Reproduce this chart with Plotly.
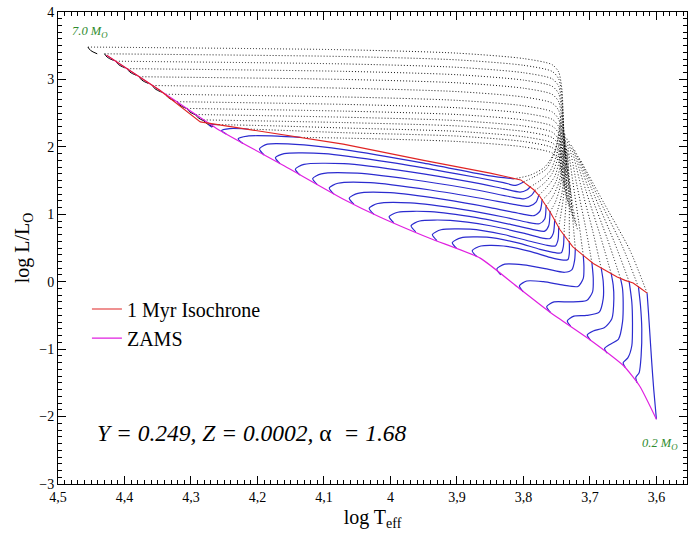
import plotly.graph_objects as go

# ---------------- data ----------------
ZAMS_LOGT = [4.427, 4.347, 4.261, 4.16, 4.070, 4.016, 3.94, 3.865, 3.81, 3.759, 3.70, 3.649, 3.625, 3.600]
ZAMS_LOGL = [3.36, 2.84, 2.27, 1.72, 1.22, 0.96, 0.64, 0.35, -0.07, -0.46, -0.86, -1.25, -1.55, -2.04]

ISO_LOGT = [4.427, 4.347, 4.286, 4.18, 4.071, 3.95, 3.85, 3.804, 3.784, 3.775, 3.759, 3.745,
            3.726, 3.71, 3.695, 3.677, 3.659, 3.647, 3.635, 3.625, 3.614]
ISO_LOGL = [3.36, 2.84, 2.37, 2.21, 2.04, 1.80, 1.61, 1.51, 1.36, 1.26, 1.02, 0.77,
            0.52, 0.39, 0.27, 0.17, 0.07, 0.02, -0.02, -0.09, -0.17]

# High-mass tracks (already on the ZAMS at 1 Myr); first 3 points = ZAMS hook
HM_LOGT = [
    [4.441, 4.451, 4.455, 4.07, 3.90, 3.80, 3.757, 3.747, 3.742, 3.7400, 3.7380],
    [4.416, 4.426, 4.430, 4.07, 3.90, 3.80, 3.757, 3.747, 3.742, 3.7395, 3.7365],
    [4.399, 4.409, 4.413, 4.07, 3.90, 3.80, 3.757, 3.747, 3.742, 3.7390, 3.7350],
    [4.382, 4.392, 4.396, 4.07, 3.90, 3.80, 3.757, 3.747, 3.742, 3.7385, 3.7335],
    [4.364, 4.374, 4.378, 4.07, 3.90, 3.80, 3.757, 3.747, 3.742, 3.7380, 3.7320],
    [4.344, 4.354, 4.358, 4.07, 3.90, 3.80, 3.757, 3.747, 3.742, 3.7375, 3.7305],
    [4.324, 4.334, 4.338, 4.07, 3.90, 3.80, 3.757, 3.747, 3.742, 3.7370, 3.7290],
    [4.307, 4.317, 4.321, 4.07, 3.90, 3.80, 3.757, 3.747, 3.742, 3.7365, 3.7275],
    [4.292, 4.302, 4.306, 4.07, 3.90, 3.80, 3.757, 3.747, 3.742, 3.7360, 3.7260],
    [4.279, 4.289, 4.293, 4.07, 3.90, 3.80, 3.757, 3.747, 3.742, 3.7355, 3.7245],
    [4.267, 4.277, 4.281, 4.07, 3.90, 3.80, 3.757, 3.747, 3.742, 3.7350, 3.7230],
]
HM_LOGL = [
    [3.38, 3.43, 3.48, 3.44, 3.39, 3.31, 3.22, 3.11, 2.84, 2.37, 1.90],
    [3.28, 3.33, 3.38, 3.34, 3.29, 3.21, 3.12, 3.01, 2.74, 2.28, 1.81],
    [3.17, 3.22, 3.27, 3.23, 3.18, 3.10, 3.01, 2.90, 2.63, 2.18, 1.72],
    [3.06, 3.11, 3.16, 3.12, 3.07, 2.99, 2.90, 2.79, 2.52, 2.08, 1.63],
    [2.94, 2.99, 3.04, 3.00, 2.95, 2.87, 2.78, 2.67, 2.40, 1.97, 1.54],
    [2.81, 2.86, 2.91, 2.87, 2.82, 2.74, 2.65, 2.54, 2.27, 1.86, 1.45],
    [2.68, 2.73, 2.78, 2.74, 2.69, 2.61, 2.52, 2.41, 2.14, 1.75, 1.36],
    [2.57, 2.62, 2.67, 2.63, 2.58, 2.50, 2.41, 2.30, 2.03, 1.65, 1.27],
    [2.47, 2.52, 2.57, 2.53, 2.48, 2.40, 2.31, 2.20, 1.93, 1.55, 1.18],
    [2.38, 2.43, 2.48, 2.44, 2.39, 2.31, 2.22, 2.11, 1.84, 1.47, 1.09],
    [2.30, 2.35, 2.40, 2.36, 2.31, 2.23, 2.14, 2.03, 1.76, 1.38, 1.00],
]
HM_HOOK = 2

# Lower-mass tracks: from the ZAMS (left end) to the birth point; LM_SPLIT = index of the 1 Myr point
LM_LOGT = [
    [4.268, 4.273, 4.258, 4.17, 4.07, 3.90, 3.80, 3.757, 3.747, 3.742, 3.734, 3.721],
    [4.247, 4.254, 4.242, 4.215, 4.15, 4.07, 3.90, 3.80, 3.757, 3.747, 3.742, 3.733, 3.7195],
    [4.222, 4.229, 4.215, 4.17, 4.135, 4.07, 3.90, 3.80, 3.757, 3.747, 3.742, 3.732, 3.718],
    [4.190, 4.197, 4.185, 4.13, 4.07, 3.95, 3.85, 3.815, 3.79, 3.768, 3.752, 3.744],
    [4.166, 4.173, 4.160, 4.10, 4.00, 3.90, 3.83, 3.812, 3.800, 3.785, 3.765, 3.752, 3.743],
    [4.136, 4.143, 4.130, 4.07, 3.97, 3.88, 3.83, 3.805, 3.795, 3.790, 3.775, 3.760, 3.749, 3.742],
    [4.110, 4.117, 4.104, 4.05, 3.95, 3.87, 3.82, 3.798, 3.788, 3.783, 3.770, 3.757, 3.747, 3.741],
    [4.085, 4.092, 4.079, 4.03, 3.94, 3.86, 3.81, 3.791, 3.781, 3.777, 3.765, 3.753, 3.745, 3.740],
    [4.055, 4.062, 4.049, 4.00, 3.92, 3.85, 3.805, 3.784, 3.775, 3.772, 3.760, 3.750, 3.743, 3.739],
    [4.025, 4.032, 4.019, 3.97, 3.89, 3.83, 3.793, 3.776, 3.768, 3.766, 3.756, 3.747, 3.741, 3.738],
    [3.995, 4.002, 3.989, 3.94, 3.87, 3.815, 3.783, 3.768, 3.762, 3.760, 3.752, 3.745, 3.740, 3.737],
    [3.962, 3.969, 3.956, 3.91, 3.85, 3.80, 3.773, 3.760, 3.755, 3.753, 3.748, 3.742, 3.738, 3.736],
    [3.930, 3.937, 3.924, 3.88, 3.83, 3.79, 3.764, 3.752, 3.748, 3.747, 3.744, 3.740, 3.737, 3.735],
    [3.900, 3.907, 3.894, 3.855, 3.81, 3.775, 3.752, 3.743, 3.740, 3.739, 3.738, 3.736, 3.735, 3.734],
    [3.870, 3.877, 3.864, 3.83, 3.79, 3.760, 3.740, 3.733, 3.731, 3.731, 3.731, 3.731, 3.732, 3.733],
    [3.834, 3.840, 3.828, 3.80, 3.765, 3.738, 3.727, 3.723, 3.722, 3.726, 3.731, 3.738],
    [3.800, 3.806, 3.795, 3.77, 3.74, 3.718, 3.710, 3.709, 3.710, 3.717, 3.726, 3.735],
    [3.759, 3.765, 3.754, 3.73, 3.705, 3.696, 3.695, 3.697, 3.707, 3.720, 3.732],
    [3.729, 3.734, 3.724, 3.705, 3.686, 3.680, 3.680, 3.683, 3.696, 3.713, 3.729],
    [3.699, 3.704, 3.695, 3.678, 3.667, 3.664, 3.665, 3.668, 3.685, 3.706, 3.726],
    [3.674, 3.678, 3.670, 3.657, 3.651, 3.650, 3.651, 3.654, 3.674, 3.699, 3.723],
    [3.647, 3.650, 3.643, 3.637, 3.636, 3.637, 3.641, 3.663, 3.692, 3.720],
    [3.629, 3.631, 3.626, 3.623, 3.622, 3.624, 3.627, 3.651, 3.685, 3.717],
    [3.600, 3.604, 3.607, 3.610, 3.612, 3.614, 3.640, 3.678, 3.714],
]
LM_LOGL = [
    [2.29, 2.325, 2.33, 2.31, 2.28, 2.23, 2.15, 2.06, 1.95, 1.68, 1.28, 0.90],
    [2.19, 2.24, 2.27, 2.265, 2.24, 2.21, 2.16, 2.08, 1.99, 1.88, 1.61, 1.21, 0.83],
    [2.05, 2.12, 2.16, 2.16, 2.14, 2.13, 2.08, 2.00, 1.91, 1.80, 1.53, 1.14, 0.76],
    [1.88, 1.97, 2.04, 2.03, 1.96, 1.76, 1.57, 1.525, 1.58, 1.70, 1.95, 2.45],
    [1.75, 1.84, 1.90, 1.90, 1.77, 1.60, 1.47, 1.43, 1.48, 1.55, 1.68, 1.95, 2.40],
    [1.58, 1.67, 1.74, 1.75, 1.63, 1.48, 1.38, 1.33, 1.36, 1.405, 1.50, 1.64, 1.92, 2.35],
    [1.44, 1.53, 1.60, 1.61, 1.49, 1.36, 1.26, 1.23, 1.28, 1.35, 1.45, 1.60, 1.88, 2.30],
    [1.30, 1.39, 1.46, 1.47, 1.36, 1.23, 1.14, 1.12, 1.18, 1.28, 1.40, 1.56, 1.84, 2.25],
    [1.15, 1.24, 1.31, 1.32, 1.22, 1.10, 1.01, 0.98, 1.05, 1.21, 1.33, 1.51, 1.80, 2.20],
    [1.00, 1.09, 1.16, 1.17, 1.07, 0.96, 0.88, 0.86, 0.93, 1.12, 1.26, 1.46, 1.76, 2.15],
    [0.875, 0.965, 1.03, 1.04, 0.95, 0.84, 0.77, 0.75, 0.83, 1.035, 1.18, 1.40, 1.72, 2.10],
    [0.74, 0.83, 0.90, 0.91, 0.83, 0.72, 0.65, 0.64, 0.72, 0.91, 1.08, 1.32, 1.67, 2.05],
    [0.61, 0.70, 0.77, 0.78, 0.70, 0.60, 0.54, 0.53, 0.62, 0.805, 0.98, 1.24, 1.62, 2.00],
    [0.49, 0.58, 0.65, 0.66, 0.58, 0.48, 0.43, 0.43, 0.52, 0.69, 0.88, 1.16, 1.56, 1.95],
    [0.37, 0.46, 0.53, 0.53, 0.45, 0.36, 0.32, 0.33, 0.42, 0.586, 0.80, 1.08, 1.50, 1.90],
    [0.10, 0.19, 0.26, 0.25, 0.19, 0.14, 0.18, 0.32, 0.49, 0.95, 1.55, 2.20],
    [-0.15, -0.06, 0.01, 0.00, -0.05, -0.07, 0.05, 0.22, 0.39, 0.90, 1.50, 2.15],
    [-0.46, -0.37, -0.30, -0.30, -0.28, -0.15, 0.05, 0.28, 0.83, 1.45, 2.10],
    [-0.66, -0.58, -0.51, -0.50, -0.45, -0.25, 0.00, 0.20, 0.76, 1.40, 2.05],
    [-0.87, -0.79, -0.73, -0.68, -0.55, -0.25, -0.05, 0.12, 0.70, 1.35, 2.00],
    [-1.06, -0.99, -0.93, -0.85, -0.60, -0.30, -0.10, 0.05, 0.64, 1.30, 1.95],
    [-1.27, -1.20, -1.13, -0.95, -0.60, -0.30, 0.00, 0.58, 1.25, 1.90],
    [-1.50, -1.42, -1.35, -1.10, -0.70, -0.35, -0.08, 0.52, 1.20, 1.85],
    [-2.04, -1.60, -1.20, -0.75, -0.45, -0.17, 0.47, 1.15, 1.80],
]
LM_SPLIT = [2, 3, 4, 7, 8, 9, 9, 9, 9, 9, 9, 9, 9, 9, 9, 8, 8, 7, 7, 7, 7, 6, 6, 5]

X_TICKS = [4.5, 4.4, 4.3, 4.2, 4.1, 4.0, 3.9, 3.8, 3.7, 3.6]
X_TICKTEXT = ["4,5", "4,4", "4,3", "4,2", "4,1", "4", "3,9", "3,8", "3,7", "3,6"]
Y_TICKS = [-3, -2, -1, 0, 1, 2, 3, 4]

# ---------------- figure ----------------
SERIF = "Liberation Serif"
DOT = dict(color="black", width=0.9, dash="1px,2px", shape="spline", smoothing=0.7)
BLUE = dict(color="#2b2bcf", width=1.2, shape="spline", smoothing=0.7)

fig = go.Figure()

for tt, ll in zip(HM_LOGT, HM_LOGL):
    fig.add_trace(go.Scatter(x=tt[HM_HOOK:], y=ll[HM_HOOK:], mode="lines", line=DOT,
                             showlegend=False, hoverinfo="skip"))
    fig.add_trace(go.Scatter(x=tt[:HM_HOOK + 1], y=ll[:HM_HOOK + 1], mode="lines",
                             line=dict(color="black", width=1, shape="spline"),
                             showlegend=False, hoverinfo="skip"))

for tt, ll, s in zip(LM_LOGT, LM_LOGL, LM_SPLIT):
    fig.add_trace(go.Scatter(x=tt[s:], y=ll[s:], mode="lines", line=DOT,
                             showlegend=False, hoverinfo="skip"))
for tt, ll, s in zip(LM_LOGT, LM_LOGL, LM_SPLIT):
    fig.add_trace(go.Scatter(x=tt[:s + 1], y=ll[:s + 1], mode="lines", line=BLUE,
                             showlegend=False, hoverinfo="skip"))

fig.add_trace(go.Scatter(x=ZAMS_LOGT, y=ZAMS_LOGL, mode="lines", name="ZAMS", legendrank=2,
                         line=dict(color="#e020e0", width=1.2, shape="spline", smoothing=0.5)))
fig.add_trace(go.Scatter(x=ISO_LOGT, y=ISO_LOGL, mode="lines", name="1 Myr Isochrone", legendrank=1,
                         line=dict(color="#e02424", width=1.1)))

axis_common = dict(showline=True, linecolor="black", linewidth=1, mirror="allticks",
                   ticks="inside", ticklen=8, tickcolor="black", showgrid=False,
                   zeroline=False, tickfont=dict(family=SERIF, size=14, color="black"))

fig.update_xaxes(range=[4.5, 3.554], tickvals=X_TICKS, ticktext=X_TICKTEXT,
                 minor=dict(ticks="inside", dtick=0.01, ticklen=4, tickcolor="black"),
                 title=dict(text="log T<sub>eff</sub>", font=dict(family=SERIF, size=20, color="black"),
                            standoff=6),
                 **axis_common)
fig.update_yaxes(range=[-3, 4], tickvals=Y_TICKS,
                 minor=dict(ticks="inside", dtick=0.1, ticklen=4, tickcolor="black"),
                 title=dict(text="log L/L<sub>O</sub>", font=dict(family=SERIF, size=20, color="black"),
                            standoff=4),
                 **axis_common)

fig.add_annotation(x=4.452, y=3.71, text="<i>7.0 M<sub>O</sub></i>", showarrow=False,
                   font=dict(family=SERIF, size=12.5, color="#2e8b2e"))
fig.add_annotation(x=3.594, y=-2.40, text="<i>0.2 M<sub>O</sub></i>", showarrow=False,
                   font=dict(family=SERIF, size=12.5, color="#2e8b2e"))
fig.add_annotation(x=4.445, y=-2.25, xanchor="left",
                   text="<i>Y = 0.249, Z = 0.0002, </i>α<i>\u00a0 = 1.68</i>", showarrow=False,
                   font=dict(family=SERIF, size=23.5, color="black"))

fig.update_layout(
    width=688, height=536,
    margin=dict(l=58, r=1, t=12, b=52),
    paper_bgcolor="white", plot_bgcolor="white",
    showlegend=True,
    legend=dict(x=0.046, y=0.412, xanchor="left", yanchor="top", bgcolor="rgba(0,0,0,0)",
                traceorder="normal",
                font=dict(family=SERIF, size=20, color="black"), tracegroupgap=0),
)

fig.write_html("out.html")
